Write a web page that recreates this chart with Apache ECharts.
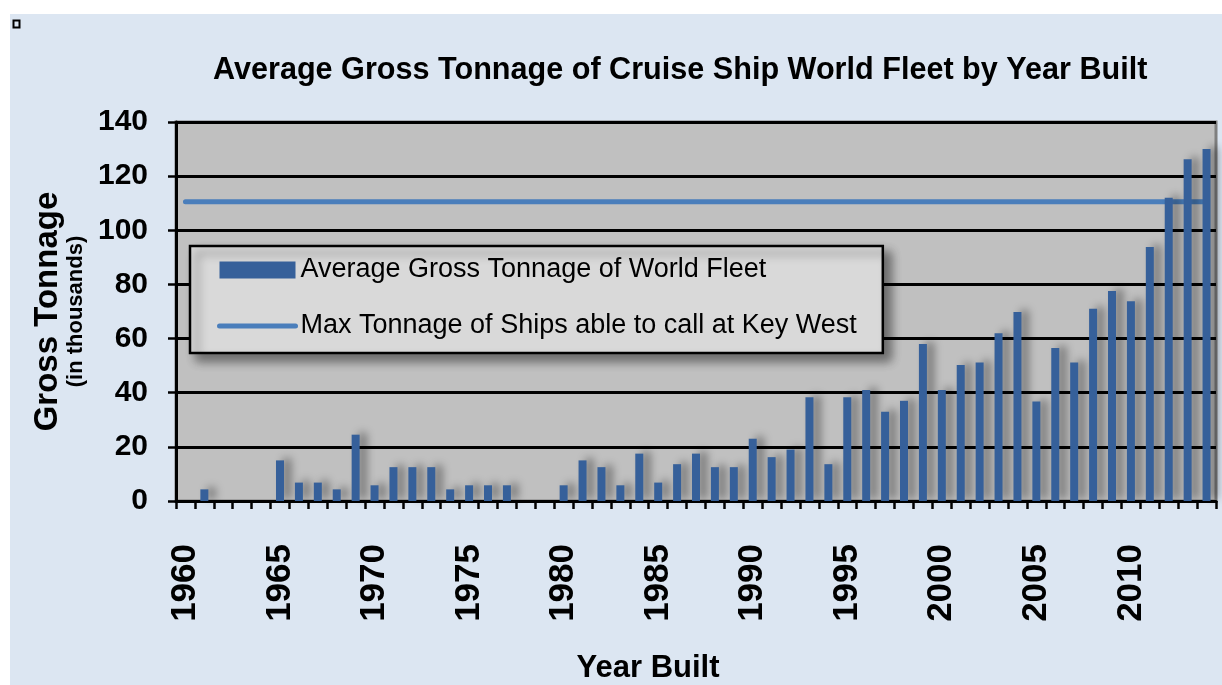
<!DOCTYPE html>
<html>
<head>
<meta charset="utf-8">
<title>Average Gross Tonnage of Cruise Ship World Fleet by Year Built</title>
<script src="https://cdn.jsdelivr.net/npm/echarts@6/dist/echarts.min.js"></script>
<style>
  html, body { margin: 0; padding: 0; background: #ffffff; }
  #backdrop { position: absolute; left: 10px; top: 14px; width: 1212px; height: 671px; background: #DCE6F2; }
  #chart { position: absolute; left: 0; top: 0; width: 1222px; height: 685px; }
</style>
</head>
<body>
<div id="backdrop"></div>
<div id="chart"></div>
<script>
// years built, one category each
const years = [];
for (let y = 1960; y <= 2014; y++) years.push(String(y));

// average gross tonnage (thousands) per year built
const avgTonnage = [
  0, 4.3, 0, 0, 0, 15, 6.8, 6.8, 4.3, 24.5,          // 1960-1969
  5.8, 12.5, 12.5, 12.5, 4.3, 5.8, 5.8, 5.8, 0, 0,     // 1970-1979
  5.8, 15, 12.5, 5.8, 17.5, 6.8, 13.6, 17.5, 12.5, 12.5, // 1980-1989
  23, 16.2, 19, 38.3, 13.6, 38.3, 41, 33, 37, 58,      // 1990-1999
  41, 50.2, 51.2, 62, 69.8, 36.8, 56.5, 51.2, 71, 77.6, // 2000-2009
  73.8, 93.8, 112, 126.2, 130                          // 2010-2014
];

// max tonnage of ships able to call at Key West (thousands)
const keyWestMax = 110.5;
const keyWestLine = years.map(() => keyWestMax);

const yTicks = { min: 0, max: 140, interval: 20 };

const SANS = "'Liberation Sans', Arial, sans-serif";

const chart = echarts.init(document.getElementById('chart'));

const option = {
  backgroundColor: 'transparent',
  animation: false,
  title: {
    text: 'Average Gross Tonnage of Cruise Ship World Fleet by Year Built',
    left: 208,
    top: 50,
    textStyle: { fontFamily: SANS, fontWeight: 'bold', fontSize: 30.6, color: '#000' }
  },
  legend: {
    left: 190,
    top: 246,
    orient: 'vertical',
    itemWidth: 76,
    itemHeight: 17,
    itemGap: 20,
    padding: [6, 26, 9, 27],
    backgroundColor: '#D9D9D9',
    borderColor: '#000',
    borderWidth: 2.5,
    shadowColor: 'rgba(0,0,0,0.45)',
    shadowBlur: 10,
    shadowOffsetX: 7,
    shadowOffsetY: 7,
    textStyle: { fontFamily: SANS, fontSize: 27, color: '#000', lineHeight: 36 },
    data: [
      { name: 'Average Gross Tonnage of World Fleet', icon: 'rect' },
      {
        name: 'Max Tonnage of Ships able to call at Key West',
        itemStyle: { opacity: 0 },
        lineStyle: { width: 5, color: '#4A7EBB', cap: 'round' }
      }
    ]
  },
  grid: {
    left: 176,
    right: 6,
    top: 122,
    bottom: 184,
    outerBoundsMode: 'none',
    show: true,
    backgroundColor: '#C0C0C0',
    borderColor: '#7F7F7F',
    borderWidth: 3
  },
  xAxis: {
    type: 'category',
    data: years,
    boundaryGap: true,
    name: 'Year Built',
    nameLocation: 'middle',
    nameGap: 152,
    nameTextStyle: { fontFamily: SANS, fontWeight: 'bold', fontSize: 31, color: '#000', padding: [0, 96, 0, 0] },
    axisLine: { lineStyle: { color: '#000', width: 3 } },
    axisTick: { show: true, interval: 0, length: 8, lineStyle: { color: '#000', width: 2.5 } },
    axisLabel: {
      interval: 4,
      rotate: 90,
      margin: 43,
      fontFamily: SANS,
      fontWeight: 'bold',
      fontSize: 35,
      color: '#000'
    },
    splitLine: { show: false }
  },
  yAxis: {
    type: 'value',
    min: yTicks.min,
    max: yTicks.max,
    interval: yTicks.interval,
    name: '{a|Gross Tonnage}\n{b|(in thousands)}',
    nameLocation: 'middle',
    nameRotate: 90,
    nameGap: 80,
    nameTextStyle: {
      rich: {
        a: { fontFamily: SANS, fontWeight: 'bold', fontSize: 33, color: '#000', lineHeight: 34, align: 'center' },
        b: { fontFamily: SANS, fontWeight: 'bold', fontSize: 22, color: '#000', lineHeight: 22, align: 'center' }
      }
    },
    axisLine: { show: true, lineStyle: { color: '#000', width: 3 } },
    axisTick: { show: true, length: 8, lineStyle: { color: '#000', width: 2.5 } },
    axisLabel: { margin: 28, fontFamily: SANS, fontWeight: 'bold', fontSize: 30, color: '#000' },
    splitLine: { show: true, lineStyle: { color: '#000', width: 3 } }
  },
  series: [
    {
      name: 'Average Gross Tonnage of World Fleet',
      type: 'bar',
      data: avgTonnage,
      barWidth: 8,
      z: 3,
      itemStyle: {
        color: '#36609A',
        shadowColor: 'rgba(0,0,0,0.4)',
        shadowBlur: 8,
        shadowOffsetX: 7,
        shadowOffsetY: -2
      }
    },
    {
      name: 'Max Tonnage of Ships able to call at Key West',
      type: 'line',
      data: keyWestLine,
      symbol: 'none',
      z: 2,
      lineStyle: { color: '#4A7EBB', width: 5, cap: 'round' },
      itemStyle: { color: '#4A7EBB' }
    }
  ],
  graphic: [
    {
      // small marker square in the top-left corner
      type: 'rect',
      left: 11,
      top: 18,
      shape: { width: 6, height: 7 },
      style: { fill: 'none', stroke: '#000', lineWidth: 2 }
    }
  ]
};

chart.setOption(option);
</script>
</body>
</html>
